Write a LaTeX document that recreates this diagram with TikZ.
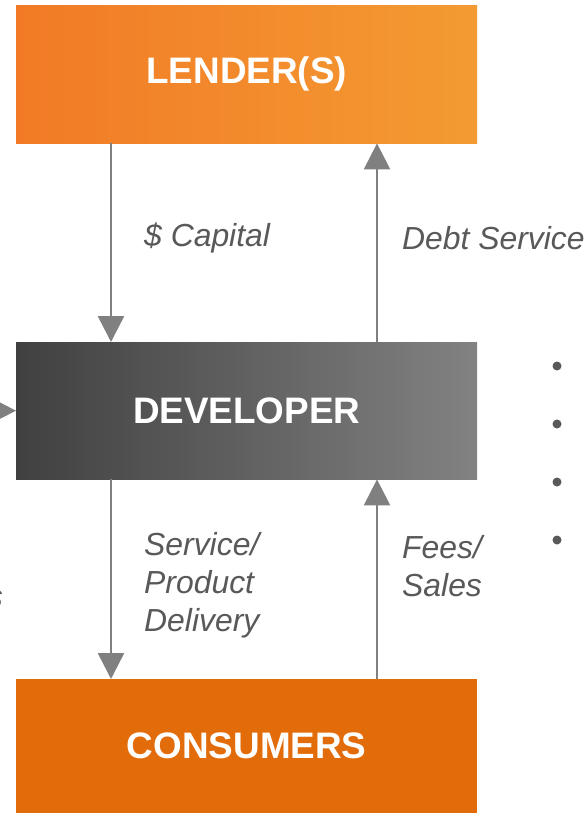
\documentclass[tikz,border=0pt]{standalone}
\usepackage{fontspec}
\setmainfont{Liberation Sans}
\usetikzlibrary{arrows.meta}
\definecolor{lendL}{RGB}{242,122,38}
\definecolor{lendR}{RGB}{243,155,50}
\definecolor{devL}{RGB}{64,64,64}
\definecolor{devR}{RGB}{130,130,130}
\definecolor{cons}{RGB}{227,108,10}
\definecolor{arr}{RGB}{128,128,128}
\definecolor{lbl}{RGB}{89,89,89}
\begin{document}
\begin{tikzpicture}[x=1bp,y=-1bp,
 box/.style={draw=none, minimum width=461bp, inner sep=0pt, text=white,
   font=\fontsize{37}{41}\selectfont\bfseries, anchor=north west},
 flow/.style={draw=arr, line width=2.5bp, -{Triangle[width=26bp,length=26bp]}},
 lab/.style={text=lbl, font=\fontsize{32}{38}\selectfont\itshape, align=left, inner sep=0pt},
 dot/.style={circle, fill=lbl, minimum size=9bp, inner sep=0pt}]
\useasboundingbox (0,0) rectangle (587,813);
\fill[white] (0,0) rectangle (587,813);
\clip (0,0) rectangle (587,813);
\node[box, minimum height=138bp, left color=lendL, right color=lendR] (lender) at (16,5) {LENDER(S)};
\node[box, minimum height=137bp, left color=devL, right color=devR] (developer) at (16,342) {DEVELOPER};
\node[box, minimum height=134bp, fill=cons] (consumers) at (16,679) {CONSUMERS};
\draw[flow] ([xshift=95bp]lender.south west) -- ([xshift=95bp]developer.north west);
\draw[flow] ([xshift=361bp]developer.north west) -- ([xshift=361bp]lender.south west);
\draw[flow] ([xshift=95bp]developer.south west) -- ([xshift=95bp]consumers.north west);
\draw[flow] ([xshift=361bp]consumers.north west) -- ([xshift=361bp]developer.south west);
\coordinate (leftsrc) at (-60,410.5);
\draw[flow] (leftsrc) -- (developer.west);
\node[lab, anchor=west] (capital) at (144,238) {\$ Capital};
\node[lab, anchor=west] (debt) at (402,238) {Debt Service};
\node[lab, anchor=west] (service) at (144,585) {Service/\\Product\\Delivery};
\node[lab, anchor=west] (fees) at (402,566) {Fees/\\Sales};
\node[lab, anchor=base east] (frag) at (3,607) {s};
\node[dot] (b1) at (557,366) {};
\node[dot] (b2) at (557,424) {};
\node[dot] (b3) at (557,482) {};
\node[dot] (b4) at (557,540) {};
\end{tikzpicture}
\end{document}
